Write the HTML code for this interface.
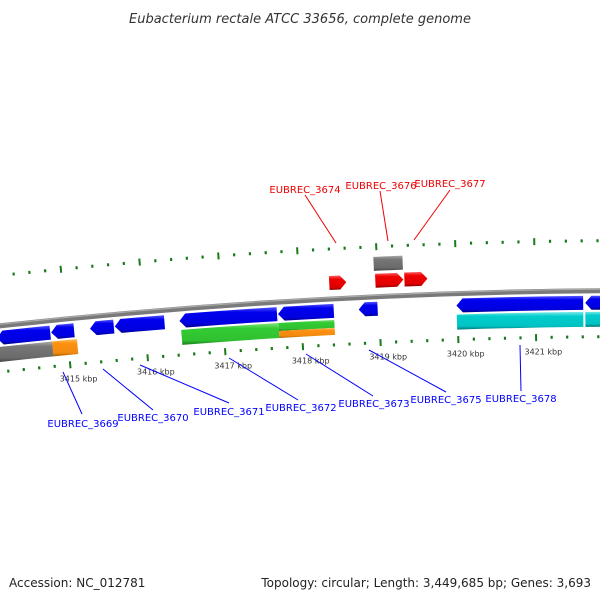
<!DOCTYPE html>
<html><head><meta charset="utf-8"><style>
body{margin:0;background:#fff}
svg{display:block;font-family:"DejaVu Sans","Liberation Sans",sans-serif}
</style></head><body>
<svg id="map" width="600" height="600" viewBox="0 0 600 600">
<defs>
<linearGradient id="gBlue" x1="0" y1="0" x2="0" y2="1"><stop offset="0" stop-color="#5555ff"/><stop offset="0.25" stop-color="#0000ee"/><stop offset="0.8" stop-color="#0000e0"/><stop offset="1" stop-color="#00008a"/></linearGradient>
<linearGradient id="gRed" x1="0" y1="0" x2="0" y2="1"><stop offset="0" stop-color="#ff6666"/><stop offset="0.25" stop-color="#ee0000"/><stop offset="0.8" stop-color="#e00000"/><stop offset="1" stop-color="#8a0000"/></linearGradient>
<linearGradient id="gGray" x1="0" y1="0" x2="0" y2="1"><stop offset="0" stop-color="#aaaaaa"/><stop offset="0.25" stop-color="#777"/><stop offset="0.8" stop-color="#6a6a6a"/><stop offset="1" stop-color="#444"/></linearGradient>
<linearGradient id="gOrange" x1="0" y1="0" x2="0" y2="1"><stop offset="0" stop-color="#ffc060"/><stop offset="0.25" stop-color="#ff9010"/><stop offset="0.8" stop-color="#f08a10"/><stop offset="1" stop-color="#a05a00"/></linearGradient>
<linearGradient id="gGreen" x1="0" y1="0" x2="0" y2="1"><stop offset="0" stop-color="#80e080"/><stop offset="0.25" stop-color="#33cc33"/><stop offset="0.8" stop-color="#30c030"/><stop offset="1" stop-color="#1a7a1a"/></linearGradient>
<linearGradient id="gCyan" x1="0" y1="0" x2="0" y2="1"><stop offset="0" stop-color="#80eaea"/><stop offset="0.25" stop-color="#00cccc"/><stop offset="0.8" stop-color="#00c4c4"/><stop offset="1" stop-color="#007a7a"/></linearGradient>
<linearGradient id="gBack" x1="0" y1="0" x2="0" y2="1"><stop offset="0" stop-color="#bbb"/><stop offset="0.4" stop-color="#888"/><stop offset="1" stop-color="#555"/></linearGradient>
</defs>
<text x="300" y="23" text-anchor="middle" font-size="13" font-style="italic" fill="#333">Eubacterium rectale ATCC 33656, complete genome</text>
<g id="ticks"></g>
<g id="feats"></g>
<g id="labels"></g>
<text x="9" y="587" font-size="12" fill="#222">Accession: NC_012781</text>
<text x="591" y="587" text-anchor="end" font-size="12" fill="#222">Topology: circular; Length: 3,449,685 bp; Genes: 3,693</text>
</svg>
<script>
// data
const featStart = [3414100,3414798,3415296,3415615,3416444,3417707,3418740,3419990,3421636, 3414100,3414798,3416457,3417707,3417707,3419990,3421636, 3418382,3418969,3419339, 3418957];
const featEnd   = [3414786,3415092,3415602,3416252,3417694,3418421,3418982,3421610,3422400, 3414798,3415117,3417707,3418421,3418421,3421610,3422400, 3418599,3419326,3419632, 3419326];
const featTrack = ['rev1','rev1','rev1','rev1','rev1','rev1','rev1','rev1','rev1', 'rev2','rev2','rev2','rev2a','rev2b','rev2','rev2', 'fwd1','fwd1','fwd1', 'fwd2'];
const featColor = ['Blue','Blue','Blue','Blue','Blue','Blue','Blue','Blue','Blue', 'Gray','Orange','Green','Green','Orange','Cyan','Cyan', 'Red','Red','Red', 'Gray'];
const featArrow = ['left','left','left','left','left','left','left','left','left', 'none','none','none','none','none','none','none', 'right','right','right', 'none'];
const majorTicks = [3414000,3415000,3416000,3417000,3418000,3419000,3420000,3421000,3422000];
const tickLabels = ['3415 kbp','3416 kbp','3417 kbp','3418 kbp','3419 kbp','3420 kbp','3421 kbp'];
const tickLabelBp = [3415000,3416000,3417000,3418000,3419000,3420000,3421000];
const geneNames = ['EUBREC_3669','EUBREC_3670','EUBREC_3671','EUBREC_3672','EUBREC_3673','EUBREC_3675','EUBREC_3678','EUBREC_3674','EUBREC_3676','EUBREC_3677'];

const NS='http://www.w3.org/2000/svg';
const CX=650, CY=6290.5, R=6000;
function ang(bp){ const x=64.8+(bp-3415000)/1000*78.4; return (x-CX)/R; }
function pt(bp,r){ const a=ang(bp); return [CX+r*Math.sin(a), CY-r*Math.cos(a)]; }
function mk(tag,attrs,parent){ const e=document.createElementNS(NS,tag); for(const k in attrs) e.setAttribute(k,attrs[k]); parent.appendChild(e); return e; }
const tracks={rev1:[R-5,R-19],rev2:[R-21,R-36],rev2a:[R-21,R-29],rev2b:[R-29,R-36],fwd1:[R+23,R+9],fwd2:[R+40,R+26]};

// backbone
const ticksG=document.getElementById('ticks'), featsG=document.getElementById('feats'), labG=document.getElementById('labels');
{ const a=pt(3413000,R), b=pt(3423500,R);
  const bb=mk('path',{d:`M${a[0]},${a[1]} A${R},${R} 0 0 1 ${b[0]},${b[1]}`,fill:'none',stroke:'#7a7a7a','stroke-width':5},featsG);
  
  
  const hl=mk('path',{d:`M${a[0]},${a[1]-1.5} A${R+1.5},${R+1.5} 0 0 1 ${b[0]},${b[1]-1.5}`,fill:'none',stroke:'#aaa','stroke-width':1.2},featsG);
  
  
}
// ticks
for(let bp=3413600; bp<=3423000; bp+=200){
  const major = majorTicks.includes(bp) || bp%1000===0;
  [[R+50,major?7:3],[R-46,major?7:3]].forEach(([r,len])=>{
    const p1=pt(bp,r-len/2), p2=pt(bp,r+len/2);
    const t=mk('line',{x1:p1[0],y1:p1[1],x2:p2[0],y2:p2[1],stroke:'#1a7a1a','stroke-width':major?2:2.2},ticksG);
    
    
  });
}
tickLabels.forEach((s,i)=>{
  const p=pt(tickLabelBp[i],R-60);
  const t=mk('text',{x:p[0]+7,y:p[1]+3,'font-size':8,fill:'#333','text-anchor':'middle'},ticksG);
  t.textContent=s;
  
  
});
// features
for(let i=0;i<featStart.length;i++){
  const [r1,r2]=tracks[featTrack[i]]; const ro=Math.max(r1,r2), ri=Math.min(r1,r2), rm=(ro+ri)/2;
  let s=featStart[i], e=featEnd[i]; const hbp=80;
  let d;
  if(featArrow[i]==='left'){
    const sb=Math.min(s+hbp,e); const a=pt(sb,ro),b=pt(e,ro),c=pt(e,ri),f=pt(sb,ri),tip=pt(s,rm);
    d=`M${a[0]},${a[1]} A${ro},${ro} 0 0 1 ${b[0]},${b[1]} L${c[0]},${c[1]} A${ri},${ri} 0 0 0 ${f[0]},${f[1]} L${tip[0]},${tip[1]} Z`;
  } else if(featArrow[i]==='right'){
    const eb=Math.max(e-hbp,s); const a=pt(s,ro),b=pt(eb,ro),tip=pt(e,rm),c=pt(eb,ri),f=pt(s,ri);
    d=`M${a[0]},${a[1]} A${ro},${ro} 0 0 1 ${b[0]},${b[1]} L${tip[0]},${tip[1]} L${c[0]},${c[1]} A${ri},${ri} 0 0 0 ${f[0]},${f[1]} Z`;
  } else {
    const a=pt(s,ro),b=pt(e,ro),c=pt(e,ri),f=pt(s,ri);
    d=`M${a[0]},${a[1]} A${ro},${ro} 0 0 1 ${b[0]},${b[1]} L${c[0]},${c[1]} A${ri},${ri} 0 0 0 ${f[0]},${f[1]} Z`;
  }
  const p=mk('path',{d:d,fill:`url(#g${featColor[i]})`},featsG);
  
  
}
// gene labels with leader lines
const lblX=[83,153,229,301,374,446,521,305,381,450];
const lblY=[423,417,411,407,403,399,398,189,185,183];
const lnFrom=[[63,372],[103,369],[140,365],[229,358],[306,354],[369,350],[520,345],[336,243],[388,241],[414,240]];
const lnTo=[[82,414],[153,410],[229,403],[298,400],[373,396],[446,392],[521,391],[305,195],[380,191],[450,190]];
geneNames.forEach((n,i)=>{
  const col = i<7 ? '#0000ff' : '#ee0000';
  const l=mk('line',{x1:lnFrom[i][0],y1:lnFrom[i][1],x2:lnTo[i][0],y2:lnTo[i][1],stroke:col,'stroke-width':1},labG);
  
  
  const t=mk('text',{x:lblX[i],y:lblY[i]+4,'font-size':10,fill:col,'text-anchor':'middle'},labG);
  t.textContent=n;
  
  
});
</script>
</body></html>
